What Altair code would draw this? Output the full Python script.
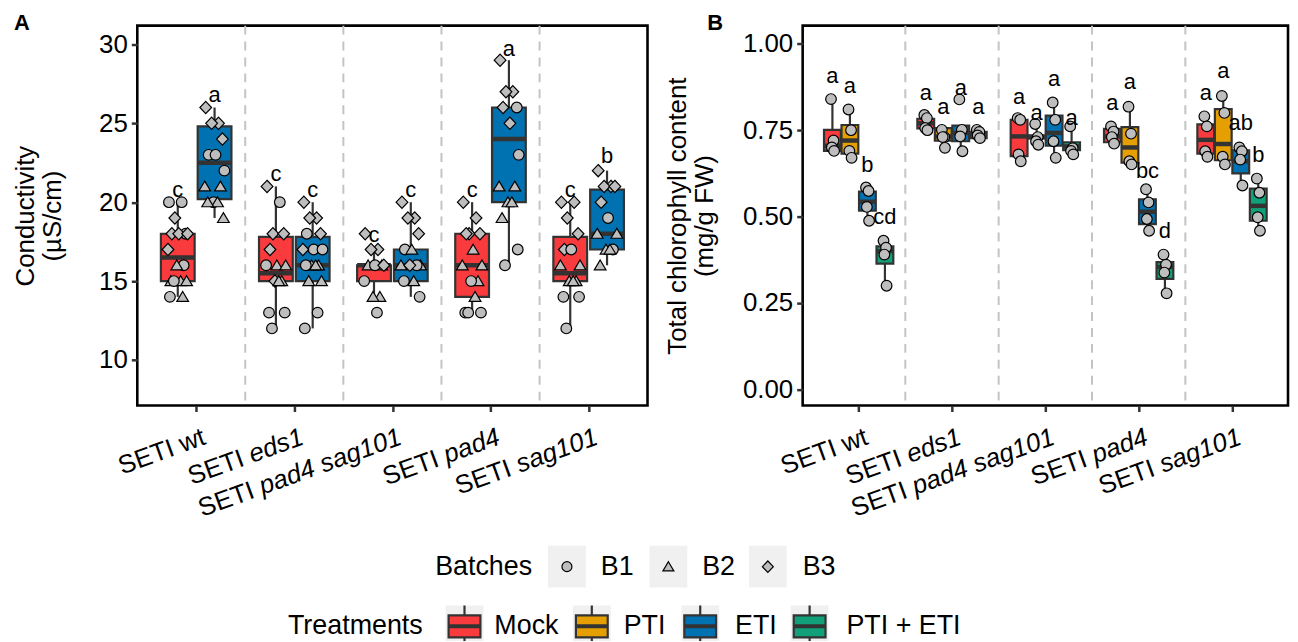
import altair as alt
import pandas as pd

# ---------------- categories / labels ----------------
GENOTYPES = ["SETI wt", "SETI eds1", "SETI pad4 sag101", "SETI pad4", "SETI sag101"]
LABEL_UPRIGHT = ["SETI wt", "SETI", "SETI", "SETI", "SETI"]
LABEL_ITALIC = ["", "eds1", "pad4 sag101", "pad4", "sag101"]
TREATMENTS = ["Mock", "PTI", "ETI", "PTI + ETI"]
TREAT_COLORS = ["#F93B3E", "#E69F00", "#0072B2", "#11A079"]
BATCHES = ["B1", "B2", "B3"]

# ---------------- Panel A: conductivity (uS/cm) ----------------
A_MOCK_VALUES = [
    [20, 20, 19, 18, 18, 18, 18, 17, 16, 16, 15, 15, 15, 15, 14, 14],
    [21, 20, 18, 18, 17, 16, 16, 16, 15, 15, 15, 13, 13, 12],
    [18, 17, 17, 16, 16, 16, 16, 15, 14, 14, 13],
    [20, 19, 18, 18, 18, 17, 16, 16, 15, 15, 14, 13, 13, 13],
    [20, 20, 19, 18, 17, 17, 16, 16, 15, 15, 15, 14, 14, 12],
]
A_MOCK_BATCH = [
    [1, 1, 3, 1, 3, 3, 3, 3, 1, 2, 2, 2, 2, 1, 2, 1],
    [3, 1, 3, 3, 3, 2, 2, 1, 2, 3, 2, 1, 1, 1],
    [3, 3, 3, 2, 2, 1, 3, 1, 2, 2, 1],
    [3, 3, 3, 3, 3, 2, 2, 2, 2, 1, 2, 1, 1, 1],
    [3, 3, 3, 3, 3, 1, 2, 2, 2, 2, 2, 1, 1, 1],
]
A_ETI_VALUES = [
    [26, 25, 25, 24, 23, 23, 22, 21, 21, 20, 20, 20, 19],
    [20, 19, 19, 18, 18, 17, 17, 17, 16, 16, 16, 16, 15, 15, 13, 12],
    [20, 19, 19, 18, 17, 17, 16, 16, 16, 16, 15, 15, 14],
    [29, 27, 27, 26, 26, 25, 23, 21, 21, 20, 20, 19, 17, 16],
    [22, 21, 21, 21, 20, 19, 18, 18, 17, 17, 17, 16],
]
A_ETI_BATCH = [
    [3, 3, 3, 3, 1, 1, 1, 2, 2, 1, 2, 2, 2],
    [3, 3, 3, 3, 1, 1, 1, 3, 2, 2, 2, 1, 2, 2, 1, 1],
    [3, 3, 3, 3, 1, 2, 2, 2, 1, 3, 2, 1, 1],
    [3, 3, 3, 1, 3, 3, 1, 2, 2, 2, 2, 2, 1, 1],
    [3, 3, 3, 3, 3, 1, 2, 2, 1, 2, 2, 2],
]
# box statistics: lower whisker, q1, median, q3, upper whisker
A_MOCK_BOX = [[14, 15, 16.5, 18, 20], [12, 15, 15.5, 17.8, 21], [14, 15, 16, 16, 17],
              [13, 14, 16, 18, 20], [12, 15, 15.5, 17.8, 20]]
A_ETI_BOX = [[19, 20.2, 22.5, 24.8, 26], [12, 15, 16, 17.8, 20], [14, 15, 16, 17, 20],
             [16, 20, 24, 26, 29], [16, 17, 18, 20.8, 22]]
A_MOCK_LETTER = ["c", "c", "c", "c", "c"]
A_MOCK_LETTER_Y = [20.8, 21.8, 17.9, 20.8, 20.8]
A_ETI_LETTER = ["a", "c", "c", "a", "b"]
A_ETI_LETTER_Y = [26.8, 20.8, 20.8, 29.7, 22.9]

# ---------------- Panel B: total chlorophyll (mg/g FW) ----------------
B_MOCK_PTS = [[0.84, 0.72, 0.70, 0.69], [0.794, 0.785, 0.756, 0.75], [0.785, 0.78, 0.68, 0.66],
              [0.761, 0.746, 0.73, 0.711], [0.79, 0.761, 0.689, 0.673]]
B_PTI_PTS = [[0.81, 0.75, 0.69, 0.67], [0.751, 0.73, 0.73, 0.699], [0.768, 0.73, 0.718, 0.708],
             [0.818, 0.74, 0.66, 0.651], [0.849, 0.80, 0.673, 0.651]]
B_ETI_PTS = [[0.584, 0.574, 0.528, 0.488], [0.839, 0.751, 0.732, 0.689], [0.83, 0.78, 0.718, 0.67],
             [0.579, 0.541, 0.493, 0.459], [0.70, 0.689, 0.665, 0.59]]
B_PE_PTS = [[0.43, 0.41, 0.39, 0.30], [0.751, 0.745, 0.735, 0.727], [0.761, 0.698, 0.69, 0.68],
            [0.39, 0.361, 0.338, 0.278], [0.61, 0.569, 0.498, 0.459]]
B_MOCK_BOX = [[0.69, 0.69, 0.705, 0.751, 0.84], [0.75, 0.755, 0.77, 0.783, 0.794],
              [0.66, 0.675, 0.732, 0.78, 0.785], [0.711, 0.715, 0.732, 0.754, 0.761],
              [0.673, 0.682, 0.722, 0.767, 0.79]]
B_PTI_BOX = [[0.67, 0.682, 0.72, 0.765, 0.81], [0.70, 0.72, 0.732, 0.756, 0.756],
             [0.708, 0.726, 0.73, 0.735, 0.768], [0.651, 0.656, 0.70, 0.759, 0.818],
             [0.651, 0.663, 0.71, 0.811, 0.849]]
B_ETI_BOX = [[0.488, 0.517, 0.543, 0.572, 0.584], [0.689, 0.718, 0.742, 0.763, 0.763],
             [0.67, 0.705, 0.742, 0.792, 0.83], [0.459, 0.478, 0.514, 0.55, 0.579],
             [0.59, 0.625, 0.66, 0.692, 0.70]]
B_PE_BOX = [[0.30, 0.364, 0.40, 0.414, 0.43], [0.727, 0.727, 0.737, 0.745, 0.751],
            [0.68, 0.692, 0.703, 0.715, 0.761], [0.278, 0.32, 0.354, 0.368, 0.39],
            [0.459, 0.488, 0.531, 0.581, 0.61]]
B_MOCK_LETTER = ["a", "a", "a", "a", "a"]
B_MOCK_LETTER_Y = [0.906, 0.858, 0.847, 0.828, 0.858]
B_PTI_LETTER = ["a", "a", "a", "a", "a"]
B_PTI_LETTER_Y = [0.878, 0.816, 0.80, 0.89, 0.92]
B_ETI_LETTER = ["b", "a", "a", "bc", "ab"]
B_ETI_LETTER_Y = [0.649, 0.871, 0.897, 0.632, 0.77]
B_PE_LETTER = ["cd", "a", "a", "d", "b"]
B_PE_LETTER_Y = [0.498, 0.816, 0.785, 0.459, 0.679]

# ---------------- styling / layout constants ----------------
FONT = "Liberation Sans"
FS = 26
WA, WB, H = 513, 488, 382
XDOM = [0.4, 5.6]
YDOM_A = [7.11, 31.19]
YDOM_B = [-0.0468, 1.0525]
DODGE_A = {"Mock": -0.1875, "ETI": 0.1875}
HW_A = 0.172
DODGE_B = {"Mock": -0.28125, "PTI": -0.09375, "ETI": 0.09375, "PTI + ETI": 0.28125}
HW_B = 0.09
JITTER_A = [-0.09, 0.04, -0.03, 0.08, -0.06, 0.01, 0.10, -0.10, 0.06, -0.01, 0.03, -0.07, 0.09, -0.04, 0.05, -0.08]
JITTER_B = [-0.015, 0.012, -0.006, 0.018]
BOXLINE = "#333333"
PTFILL = "#BEBEBE"
# circle, triangle, diamond (custom unit paths so the glyphs match the reference sizes)
BATCH_SHAPES = ["circle", "M0,-1.0L1.1,0.85L-1.1,0.85Z", "M0,-1.15L1.1,0L0,1.15L-1.1,0Z"]

HELV = {" ": 278, "a": 556, "b": 556, "c": 500, "d": 556, "e": 556, "g": 556, "p": 556,
        "s": 500, "t": 278, "w": 722, "0": 556, "1": 556, "4": 556,
        "S": 667, "E": 667, "T": 611, "I": 278}


def text_width(s, fs=FS):
    return sum(HELV.get(ch, 556) for ch in s) / 1000.0 * fs


color_scale = alt.Scale(domain=TREATMENTS, range=TREAT_COLORS)
shape_scale = alt.Scale(domain=BATCHES, range=BATCH_SHAPES)
XAXIS = alt.Axis(values=[1, 2, 3, 4, 5], labels=False, title=None)


def xs():
    return alt.Scale(domain=XDOM, nice=False, zero=False)


def build_frames(groups, dodge, hw, jitter):
    pts, boxes = [], []
    for treat, vals, bats, box, let, lety in groups:
        for g in range(5):
            c = g + 1 + dodge[treat]
            lo, q1, med, q3, hi = box[g]
            boxes.append(dict(treat=treat, pos=c, x1=c - hw, x2=c + hw, lo=lo, q1=q1,
                              med=med, q3=q3, hi=hi, letter=let[g], ly=lety[g]))
            for i, v in enumerate(vals[g]):
                b = bats[g][i] if bats is not None else 1
                pts.append(dict(treat=treat, px=c + jitter[i % len(jitter)], val=v, batch=f"B{b}"))
    return pd.DataFrame(pts), pd.DataFrame(boxes)


def panel(pts, boxes, ydom, yaxis, width, tag, tag_dx):
    ysc = alt.Scale(domain=ydom, nice=False, zero=False)

    def X(f):
        return alt.X(f, scale=xs(), axis=XAXIS)

    def Y(f):
        return alt.Y(f, scale=ysc, axis=yaxis)

    sep = pd.DataFrame({"x": [1.5, 2.5, 3.5, 4.5]})
    layers = []
    layers.append(alt.Chart(sep).mark_rule(color="#C4C4C4", strokeWidth=2, strokeDash=[9, 7]).encode(
        x=X("x:Q")))
    layers.append(alt.Chart(boxes).mark_rule(color=BOXLINE, strokeWidth=2.2).encode(
        x=X("pos:Q"), y=Y("lo:Q"), y2="q1:Q"))
    layers.append(alt.Chart(boxes).mark_rule(color=BOXLINE, strokeWidth=2.2).encode(
        x=X("pos:Q"), y=Y("q3:Q"), y2="hi:Q"))
    layers.append(alt.Chart(boxes).mark_rect(stroke=BOXLINE, strokeWidth=2.2).encode(
        x=X("x1:Q"), x2="x2:Q", y=Y("q1:Q"), y2="q3:Q",
        color=alt.Color("treat:N", scale=color_scale, legend=None)))
    layers.append(alt.Chart(boxes).mark_rule(color=BOXLINE, strokeWidth=4.5).encode(
        x=X("x1:Q"), x2="x2:Q", y=Y("med:Q")))
    layers.append(alt.Chart(pts).mark_point(filled=True, fill=PTFILL, stroke="black", strokeWidth=1.2,
                                            size=115, opacity=1, fillOpacity=1).encode(
        x=X("px:Q"), y=Y("val:Q"),
        shape=alt.Shape("batch:N", scale=shape_scale, legend=None)))
    layers.append(alt.Chart(boxes).mark_text(fontSize=22, baseline="middle", color="black", font=FONT).encode(
        x=X("pos:Q"), y=Y("ly:Q"), text="letter:N"))
    # x tick labels: upright part + italic part, rotated 20 degrees
    for i in range(5):
        d = pd.DataFrame({"pos": [i + 1], "up": [LABEL_UPRIGHT[i]], "it": [LABEL_ITALIC[i]]})
        base = dict(angle=340, align="right", baseline="top", fontSize=FS, font=FONT, color="black")
        shift = -(text_width(LABEL_ITALIC[i]) + text_width(" ")) if LABEL_ITALIC[i] else 0
        layers.append(alt.Chart(d).mark_text(dx=shift + 4, **base).encode(
            x=X("pos:Q"), y=alt.value(H + 20), text="up:N"))
        if LABEL_ITALIC[i]:
            layers.append(alt.Chart(d).mark_text(dx=4, fontStyle="italic", **base).encode(
                x=X("pos:Q"), y=alt.value(H + 20), text="it:N"))
    layers.append(alt.Chart(pd.DataFrame({"t": [tag]})).mark_text(
        fontSize=22, fontWeight="bold", align="left", baseline="top", font=FONT, color="black").encode(
        x=alt.value(tag_dx), y=alt.value(-13), text="t:N"))
    return alt.layer(*layers).properties(
        width=width, height=H, view=alt.ViewBackground(stroke="black", strokeWidth=2.6))


ptsA, boxA = build_frames([
    ("Mock", A_MOCK_VALUES, A_MOCK_BATCH, A_MOCK_BOX, A_MOCK_LETTER, A_MOCK_LETTER_Y),
    ("ETI", A_ETI_VALUES, A_ETI_BATCH, A_ETI_BOX, A_ETI_LETTER, A_ETI_LETTER_Y),
], DODGE_A, HW_A, JITTER_A)
ptsB, boxB = build_frames([
    ("Mock", B_MOCK_PTS, None, B_MOCK_BOX, B_MOCK_LETTER, B_MOCK_LETTER_Y),
    ("PTI", B_PTI_PTS, None, B_PTI_BOX, B_PTI_LETTER, B_PTI_LETTER_Y),
    ("ETI", B_ETI_PTS, None, B_ETI_BOX, B_ETI_LETTER, B_ETI_LETTER_Y),
    ("PTI + ETI", B_PE_PTS, None, B_PE_BOX, B_PE_LETTER, B_PE_LETTER_Y),
], DODGE_B, HW_B, JITTER_B)

axisA = alt.Axis(values=[10, 15, 20, 25, 30], title=["Conductivity", "(µS/cm)"],
                 titlePadding=33, titleLineHeight=27)
axisB = alt.Axis(values=[0, 0.25, 0.5, 0.75, 1.0], format=".2f",
                 title=["Total chlorophyll content", "(mg/g FW)"], titlePadding=25, titleLineHeight=27)

panelA = panel(ptsA, boxA, YDOM_A, axisA, WA, "A", -124)
panelB = panel(ptsB, boxB, YDOM_B, axisB, WB, "B", -96)

# ---------------- legend (drawn as its own view) ----------------
# page coordinates of the legend pieces, converted to the legend view's own pixel scale
LEG_OX, LEG_OY = 136, 530
LW, LH = 840, 114
ROW1_Y, ROW2_Y = 569, 629
KEY_W, KEY_H = 38, 42
BATCH_KEY_X = [568, 670, 770]
BATCH_LABEL_X = [602, 704, 805]
TREAT_KEY_X = [465, 593, 702, 812]
TREAT_LABEL_X = [495, 625, 737, 849]
LFS = 27

lx = alt.Scale(domain=[0, LW], range=[0, LW], nice=False, zero=False)
ly = alt.Scale(domain=[0, LH], range=[0, LH], nice=False, zero=False)

keys = pd.DataFrame({
    "cx": [x - LEG_OX for x in BATCH_KEY_X + TREAT_KEY_X],
    "cy": [ROW1_Y - LEG_OY] * 3 + [ROW2_Y - LEG_OY] * 4,
})
keys["x1"] = keys.cx - KEY_W / 2
keys["x2"] = keys.cx + KEY_W / 2
keys["y1"] = keys.cy - KEY_H / 2
keys["y2"] = (keys.cy + KEY_H / 2).clip(upper=LH)
bsym = pd.DataFrame({"cx": [x - LEG_OX for x in BATCH_KEY_X], "cy": [ROW1_Y - LEG_OY] * 3, "batch": BATCHES})
tsym = pd.DataFrame({"cx": [x - LEG_OX for x in TREAT_KEY_X], "cy": [ROW2_Y - LEG_OY] * 4, "treat": TREATMENTS})
tsym["x1"] = tsym.cx - 16
tsym["x2"] = tsym.cx + 16
tsym["b1"] = tsym.cy - 11
tsym["b2"] = (tsym.cy + 11).clip(upper=LH)
tsym["w1"] = tsym.cy - KEY_H / 2
tsym["w2"] = (tsym.cy + KEY_H / 2).clip(upper=LH)
ltext = pd.DataFrame({
    "x": [x - LEG_OX for x in BATCH_LABEL_X + TREAT_LABEL_X],
    "y": [ROW1_Y - LEG_OY] * 3 + [ROW2_Y - LEG_OY] * 4,
    "t": BATCHES + TREATMENTS,
})
ltitle = pd.DataFrame({"x": [533 - LEG_OX, 423 - LEG_OX], "y": [ROW1_Y - LEG_OY, ROW2_Y - LEG_OY],
                       "t": ["Batches", "Treatments"]})

legend = alt.layer(
    alt.Chart(keys).mark_rect(fill="#F0F0F0", clip=True).encode(
        x=alt.X("x1:Q", scale=lx, axis=None), x2="x2:Q",
        y=alt.Y("y1:Q", scale=ly, axis=None), y2="y2:Q"),
    alt.Chart(bsym).mark_point(filled=True, fill=PTFILL, stroke="black", strokeWidth=1.2,
                               size=100, opacity=1).encode(
        x=alt.X("cx:Q", scale=lx, axis=None), y=alt.Y("cy:Q", scale=ly, axis=None),
        shape=alt.Shape("batch:N", scale=shape_scale, legend=None)),
    alt.Chart(tsym).mark_rule(color=BOXLINE, strokeWidth=2.2, clip=True).encode(
        x=alt.X("cx:Q", scale=lx, axis=None), y=alt.Y("w1:Q", scale=ly, axis=None), y2="w2:Q"),
    alt.Chart(tsym).mark_rect(stroke=BOXLINE, strokeWidth=2.2, clip=True).encode(
        x=alt.X("x1:Q", scale=lx, axis=None), x2="x2:Q",
        y=alt.Y("b1:Q", scale=ly, axis=None), y2="b2:Q",
        color=alt.Color("treat:N", scale=color_scale, legend=None)),
    alt.Chart(tsym).mark_rule(color=BOXLINE, strokeWidth=4).encode(
        x=alt.X("x1:Q", scale=lx, axis=None), x2="x2:Q", y=alt.Y("cy:Q", scale=ly, axis=None)),
    alt.Chart(ltext).mark_text(align="left", baseline="middle", fontSize=LFS, font=FONT, color="black").encode(
        x=alt.X("x:Q", scale=lx, axis=None), y=alt.Y("y:Q", scale=ly, axis=None), text="t:N"),
    alt.Chart(ltitle).mark_text(align="right", baseline="middle", fontSize=LFS, font=FONT, color="black").encode(
        x=alt.X("x:Q", scale=lx, axis=None), y=alt.Y("y:Q", scale=ly, axis=None), text="t:N"),
).properties(width=LW, height=LH, view=alt.ViewBackground(stroke="transparent", strokeWidth=0))

top = alt.hconcat(panelA, panelB, spacing=14)
chart = alt.vconcat(top, legend, spacing=4).configure(
    font=FONT, padding={"left": 3, "top": 0, "right": 0, "bottom": 0}
).configure_view(stroke="transparent").configure_axis(
    domain=False, grid=False, ticks=True, tickColor="#333333", tickWidth=2.5, tickSize=6,
    labelFontSize=FS, labelColor="black", labelFont=FONT, labelPadding=4,
    titleFont=FONT, titleFontSize=FS, titleFontWeight="normal", titleColor="black",
).resolve_scale(color="shared", shape="shared")

chart.save("out.html", embed_options={"renderer": "svg", "actions": False})
